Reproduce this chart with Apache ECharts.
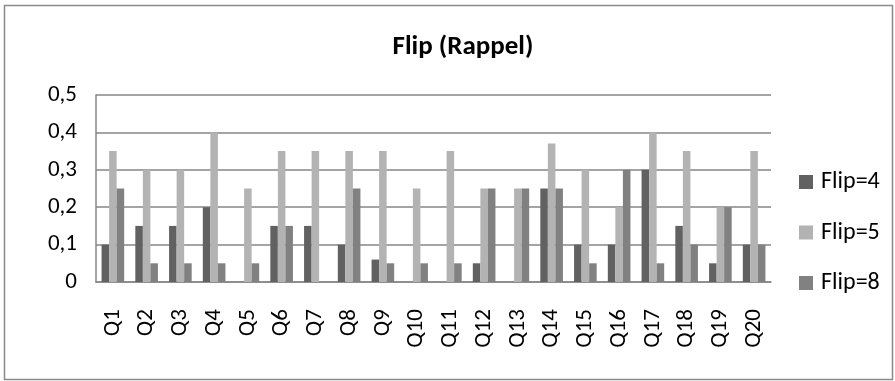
<!DOCTYPE html>
<html>
<head>
<meta charset="utf-8">
<script src="https://cdn.jsdelivr.net/npm/echarts@6/dist/echarts.min.js"></script>
<style>
  html, body { margin: 0; padding: 0; background: #fff; }
  #chart { width: 895px; height: 381px; }
</style>
</head>
<body>
<div id="chart"></div>
<script>
// Questions on the x axis
const categories = ['Q1','Q2','Q3','Q4','Q5','Q6','Q7','Q8','Q9','Q10',
                    'Q11','Q12','Q13','Q14','Q15','Q16','Q17','Q18','Q19','Q20'];

// Recall rate per question for each flip count
const flip4 = [0.10,0.15,0.15,0.20,0.00,0.15,0.15,0.10,0.06,0.00,
               0.00,0.05,0.00,0.25,0.10,0.10,0.30,0.15,0.05,0.10];
const flip5 = [0.35,0.30,0.30,0.40,0.25,0.35,0.35,0.35,0.35,0.25,
               0.35,0.25,0.25,0.37,0.30,0.20,0.40,0.35,0.20,0.35];
const flip8 = [0.25,0.05,0.05,0.05,0.05,0.15,0.00,0.25,0.05,0.05,
               0.05,0.25,0.25,0.25,0.05,0.30,0.05,0.10,0.20,0.10];

const seriesNames = ['Flip=4', 'Flip=5', 'Flip=8'];
const yTicks = [0, 0.1, 0.2, 0.3, 0.4, 0.5];

const FONT = 'Carlito, "Noto Sans", "Open Sans", sans-serif';
const gridColor = '#868686';

const chart = echarts.init(document.getElementById('chart'), null, { renderer: 'canvas' });

function barSeries(name, data, color) {
  return {
    name: name,
    type: 'bar',
    data: data,
    barGap: '0%',
    barCategoryGap: '33%',
    itemStyle: { color: color },
    emphasis: { disabled: true }
  };
}

chart.setOption({
  animation: false,
  backgroundColor: '#ffffff',
  title: {
    text: 'Flip (Rappel)',
    left: 458,
    top: 29,
    textAlign: 'center',
    textStyle: { fontFamily: FONT, fontWeight: 'bold', fontSize: 27, color: '#000' }
  },
  legend: {
    orient: 'vertical',
    left: 794,
    top: 165,
    itemWidth: 14,
    itemHeight: 14,
    itemGap: 26.5,
    icon: 'rect',
    textStyle: { fontFamily: FONT, fontSize: 24, color: '#000', padding: [0, 0, 0, 3] },
    data: seriesNames
  },
  grid: { left: 96, right: 124, top: 95, bottom: 99, containLabel: false },
  xAxis: {
    type: 'category',
    data: categories,
    axisLine: { show: true, lineStyle: { color: gridColor, width: 1.5 } },
    axisTick: { show: false },
    axisLabel: {
      rotate: 90,
      margin: 27,
      interval: 0,
      fontFamily: FONT,
      fontSize: 23,
      color: '#000'
    }
  },
  yAxis: {
    type: 'value',
    min: 0,
    max: 0.5,
    interval: 0.1,
    axisLine: { show: true, lineStyle: { color: gridColor, width: 1.5 } },
    axisTick: { show: false },
    splitLine: { show: true, lineStyle: { color: gridColor, width: 1.5 } },
    axisLabel: {
      margin: 19,
      fontFamily: FONT,
      fontSize: 23,
      color: '#000',
      formatter: function (v) {
        const t = yTicks.find(function (x) { return Math.abs(x - v) < 1e-9; });
        const val = t === undefined ? v : t;
        return val === 0 ? '0' : String(Math.round(val * 10) / 10).replace('.', ',');
      }
    }
  },
  series: [
    barSeries(seriesNames[0], flip4, '#616161'),
    barSeries(seriesNames[1], flip5, '#b3b3b3'),
    barSeries(seriesNames[2], flip8, '#818181')
  ],
  graphic: [{
    type: 'rect',
    shape: { x: 4.5, y: 5.5, width: 888, height: 374 },
    style: { fill: 'none', stroke: '#8a8a8a', lineWidth: 1.5 },
    silent: true,
    z: -1
  }]
});
</script>
</body>
</html>
